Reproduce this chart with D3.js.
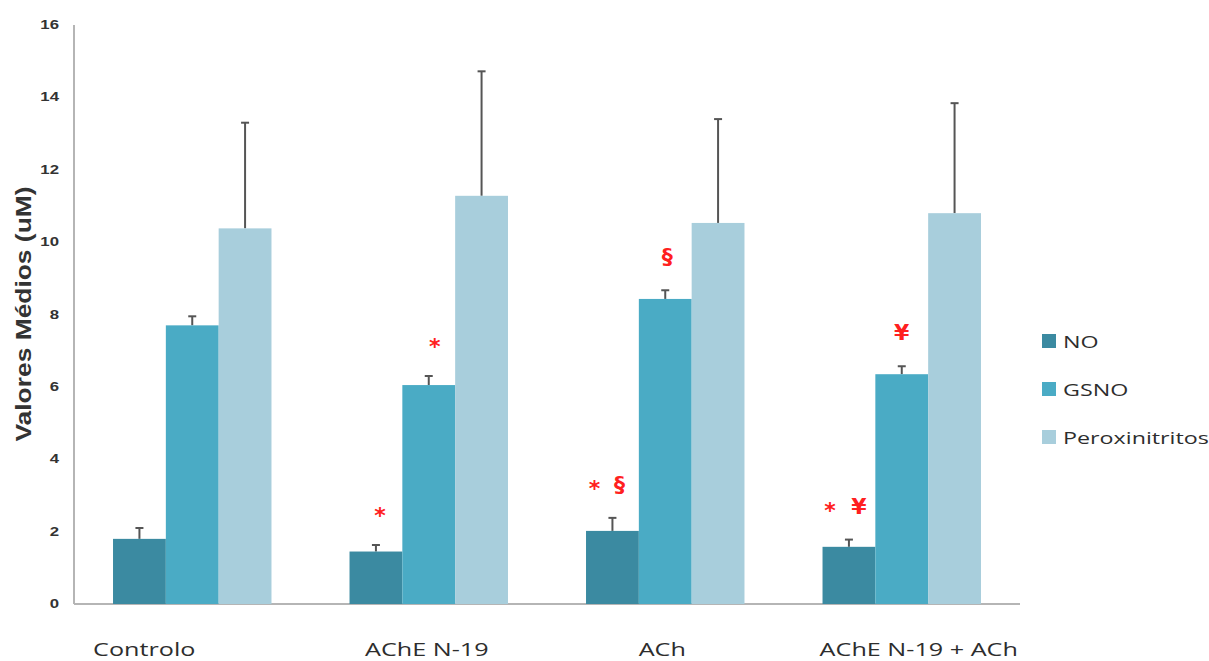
<!DOCTYPE html>
<html>
<head>
<meta charset="utf-8">
<script src="https://cdn.jsdelivr.net/npm/d3@7"></script>
<style>
  body { margin: 0; background: #fff; }
  svg text { font-family: "Open Sans", "Liberation Sans", sans-serif; }
  .tick-lbl { font-family: "Liberation Sans", Arial, sans-serif; font-weight: bold; font-size: 12px; fill: #333; }
  .ytitle { font-family: "Liberation Sans", Arial, sans-serif; font-weight: bold; font-size: 22px; fill: #333; }
  .xlbl { font-size: 18px; fill: #2d2d2d; }
  .leg { font-size: 17px; fill: #2d2d2d; }
  .mark { font-family: "DejaVu Sans", sans-serif; fill: #ff2020; font-size: 22px; font-weight: bold; }
</style>
</head>
<body>
<svg width="1209" height="661"></svg>
<script>
const groups = ['Controlo', 'AChE N-19', 'ACh', 'AChE N-19 + ACh']
const series = ['NO', 'GSNO', 'Peroxinitritos']
const colors = ['#3b8aa1', '#4aabc5', '#a8cedc']

// means, one row per group: NO, GSNO, Peroxinitritos
const means = [
  [1.8, 7.7, 10.38],
  [1.45, 6.05, 11.28],
  [2.02, 8.43, 10.53],
  [1.58, 6.35, 10.8]
]
const errTops = [
  [2.1, 7.95, 13.3],
  [1.63, 6.3, 14.72],
  [2.38, 8.67, 13.4],
  [1.78, 6.57, 13.84]
]
// significance marks: group, series, symbol
const marks = [
  [1, 0, '*'], [1, 1, '*'],
  [2, 0, '*'], [2, 0, '§'], [2, 1, '§'],
  [3, 0, '*'], [3, 0, '¥'], [3, 1, '¥']
]
const yTicks = [0, 2, 4, 6, 8, 10, 12, 14, 16]

// layout nudges (px) matching the original picture
const markDx = [4, 6, -18, 7, 2, -19, 10, 0]
const labelShift = [-48, -2, -3, 17]
const stretch = 1.4

const svg = d3.select('svg')
const plotLeft = 74, plotRight = 1020, plotTop = 25, plotBottom = 604

const x0 = d3.scaleBand().domain(groups).range([plotLeft, plotRight]).paddingInner(0.33).paddingOuter(0.165)
const x1 = d3.scaleBand().domain(series).range([0, x0.bandwidth()])
const y = d3.scaleLinear().domain([0, 16]).range([plotBottom, plotTop])

// axes lines
svg.append('line').attr('x1', plotLeft).attr('x2', plotLeft).attr('y1', plotTop).attr('y2', plotBottom)
  .attr('stroke', '#b5b5b5').attr('stroke-width', 2)
svg.append('line').attr('x1', plotLeft).attr('x2', plotRight).attr('y1', plotBottom).attr('y2', plotBottom)
  .attr('stroke', '#b5b5b5').attr('stroke-width', 2)

svg.selectAll('text.tick-lbl')
  .data(yTicks)
  .enter()
  .append('text')
  .attr('class', 'tick-lbl')
  .attr('transform', d => `translate(59,${y(d) + 4}) scale(${stretch},1)`)
  .attr('text-anchor', 'end')
  .text(d => d)

svg.append('text')
  .attr('class', 'ytitle')
  .attr('transform', `translate(31,314) rotate(-90) scale(1.2,1)`)
  .attr('text-anchor', 'middle')
  .text('Valores Médios (uM)')

const g = svg.selectAll('g.grp')
  .data(groups)
  .enter()
  .append('g')
  .attr('class', 'grp')
  .attr('transform', d => `translate(${x0(d)},0)`)

g.each(function (gname, gi) {
  const sel = d3.select(this)
  series.forEach((s, si) => {
    const cx = x1(s) + x1.bandwidth() / 2
    sel.append('line')
      .attr('x1', cx).attr('x2', cx)
      .attr('y1', y(means[gi][si])).attr('y2', y(errTops[gi][si]))
      .attr('stroke', '#555').attr('stroke-width', 2)
    sel.append('line')
      .attr('x1', cx - 4).attr('x2', cx + 4)
      .attr('y1', y(errTops[gi][si])).attr('y2', y(errTops[gi][si]))
      .attr('stroke', '#555').attr('stroke-width', 2)
    sel.append('rect')
      .attr('x', x1(s))
      .attr('y', y(means[gi][si]))
      .attr('width', x1.bandwidth())
      .attr('height', y(0) - y(means[gi][si]))
      .attr('fill', colors[si])
  })
})

svg.selectAll('text.xlbl')
  .data(groups)
  .enter()
  .append('text')
  .attr('class', 'xlbl')
  .attr('transform', (d, i) => `translate(${x0(d) + x0.bandwidth() / 2 + labelShift[i]},656) scale(${stretch},1)`)
  .attr('text-anchor', 'middle')
  .text(d => d)

svg.selectAll('text.mark')
  .data(marks)
  .enter()
  .append('text')
  .attr('class', 'mark')
  .attr('x', (d, i) => x0(groups[d[0]]) + x1(series[d[1]]) + x1.bandwidth() / 2 + markDx[i])
  .attr('y', d => y(errTops[d[0]][d[1]]) - (d[2] === '*' ? 22 : 26))
  .attr('text-anchor', 'middle')
  .text(d => d[2])

const legend = svg.selectAll('g.leg')
  .data(series)
  .enter()
  .append('g')
  .attr('transform', (d, i) => `translate(1042,${341 + i * 48})`)
legend.append('rect').attr('x', 0).attr('y', -7).attr('width', 14).attr('height', 14)
  .attr('fill', (d, i) => colors[i])
legend.append('text').attr('class', 'leg')
  .attr('transform', `translate(21,7) scale(1.37,1)`)
  .text(d => d)
</script>
</body>
</html>
